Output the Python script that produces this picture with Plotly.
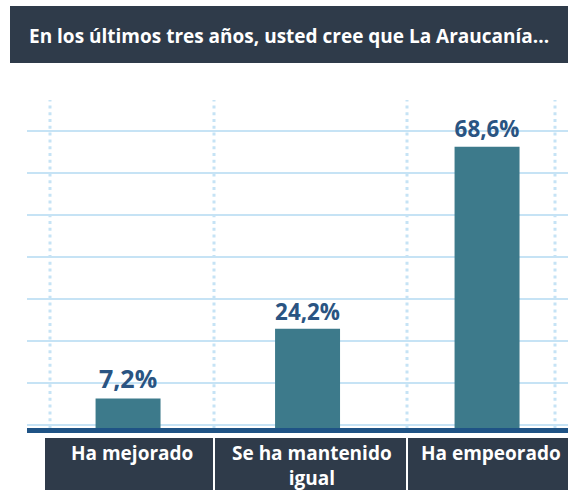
import plotly.graph_objects as go

categories = ["Ha mejorado", "Se ha mantenido igual", "Ha empeorado"]
category_labels = ["Ha mejorado", "Se ha mantenido<br>igual", "Ha empeorado"]
values = [7.2, 24.2, 68.6]
title_text = "En los últimos tres años, usted cree que La Araucanía..."

DARK = "#2f3b4a"
BAR = "#3d7a8b"
GRID = "#c6e3f5"
BASE = "#1f5385"
PCT = "#2a5482"

W, H = 568, 490
L, R, T, B = 27, 0, 100, 62
pw = W - L - R
ph = H - T - B

def px_x(x):
    return (x - L) / pw

def px_y(y):
    return (H - B - y) / ph

fig = go.Figure()
fig.add_trace(go.Bar(
    x=categories, y=values,
    width=0.362,
    marker=dict(color=BAR, line=dict(width=0)),
    texttemplate="%{y:.1f}%",
    textposition="outside",
    textfont=dict(family="Open Sans", size=25, color=PCT, weight="bold"),
    cliponaxis=False,
    hoverinfo="skip",
))

shapes = []
# title banner
shapes.append(dict(type="rect", xref="paper", yref="paper",
                   x0=px_x(10), x1=px_x(568), y0=px_y(63), y1=px_y(6),
                   fillcolor=DARK, line=dict(width=0), layer="below"))
# vertical dotted lines
for xv in [50, 214, 407, 555]:
    shapes.append(dict(type="line", xref="paper", yref="paper",
                       x0=px_x(xv), x1=px_x(xv), y0=px_y(428), y1=px_y(100),
                       line=dict(color=GRID, width=3, dash="3px,3.8px"), layer="below"))
# baseline
shapes.append(dict(type="line", xref="paper", yref="paper",
                   x0=0, x1=1, y0=px_y(430.5), y1=px_y(430.5),
                   line=dict(color=BASE, width=5)))
# label boxes
for x0, x1 in [(45, 213), (215, 406), (408, 568)]:
    shapes.append(dict(type="rect", xref="paper", yref="paper",
                       x0=px_x(x0), x1=px_x(x1), y0=px_y(490), y1=px_y(438),
                       fillcolor=DARK, line=dict(width=0)))

annotations = [dict(text=title_text, xref="paper", yref="paper",
                    x=px_x(27), y=px_y(36), xanchor="left", yanchor="middle",
                    showarrow=False,
                    font=dict(family="Open Sans", size=19, color="white", weight="bold"))]
for c, lab in zip(categories, category_labels):
    annotations.append(dict(text=lab, x=c, xref="x", yref="paper",
                            y=px_y(438), yanchor="top", xanchor="center",
                            xshift=4, showarrow=False,
                            font=dict(family="Open Sans", size=19, color="white", weight="bold")))

fig.update_layout(
    width=W, height=H,
    margin=dict(l=L, r=R, t=T, b=B, pad=0),
    paper_bgcolor="white", plot_bgcolor="white",
    showlegend=False,
    separators=",.",
    shapes=shapes,
    annotations=annotations,
    xaxis=dict(range=[-0.563, 2.451], showticklabels=False, showgrid=False,
               zeroline=False, showline=False, fixedrange=True),
    yaxis=dict(range=[0, 80], showticklabels=False, showgrid=True,
               gridcolor=GRID, gridwidth=2, tickmode="linear", tick0=11, dtick=10.25,
               zeroline=False, showline=False, fixedrange=True),
)

fig.write_html("out.html", config={"displayModeBar": False},
               post_script="document.body.style.margin='0';document.body.style.overflow='hidden';")
